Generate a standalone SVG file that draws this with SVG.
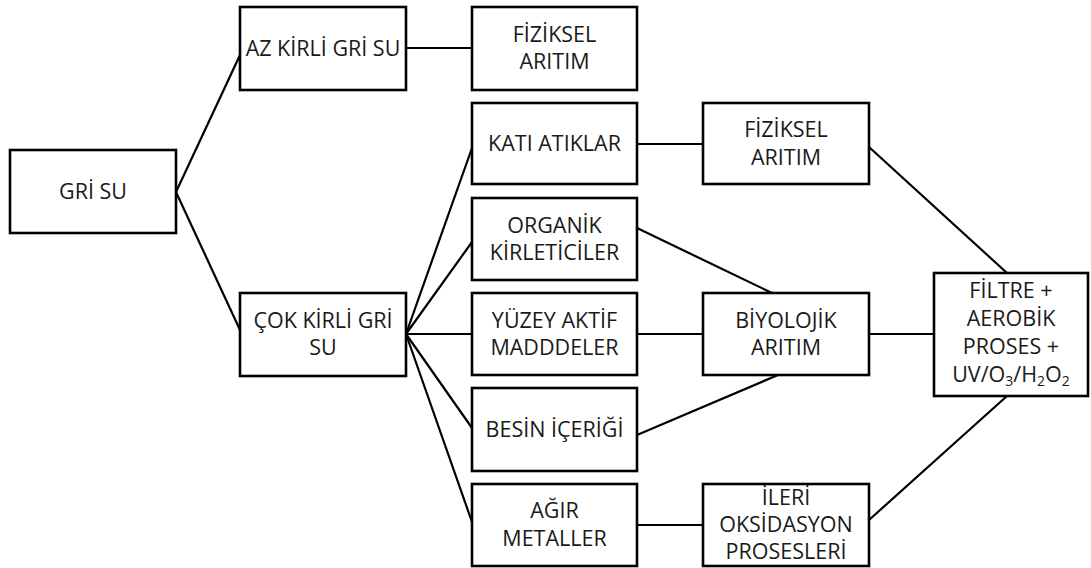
<svg xmlns="http://www.w3.org/2000/svg" width="1091" height="568" viewBox="0 0 1091 568">
<style>
.box{fill:#fff;stroke:#000;stroke-width:2.6}
.t{font-family:"Open Sans","Noto Sans","Liberation Sans",sans-serif;font-size:21.5px;fill:#1a1a1a;text-anchor:middle}
.sub{font-size:14px}
#connectors line{stroke:#000;stroke-width:2.2;fill:none}
</style>
<rect width="1091" height="568" fill="#fff"/>
<g id="connectors">
<line x1="176" y1="192" x2="240" y2="55"/>
<line x1="176" y1="192" x2="240" y2="330"/>
<line x1="406" y1="48" x2="472" y2="48"/>
<line x1="406" y1="334" x2="472" y2="148"/>
<line x1="406" y1="334" x2="472" y2="242"/>
<line x1="406" y1="334" x2="472" y2="334"/>
<line x1="406" y1="334" x2="472" y2="428"/>
<line x1="406" y1="334" x2="472" y2="522"/>
<line x1="637" y1="144" x2="703" y2="144"/>
<line x1="637" y1="228" x2="772" y2="293"/>
<line x1="637" y1="334" x2="703" y2="334"/>
<line x1="637" y1="435" x2="778" y2="375"/>
<line x1="637" y1="525" x2="703" y2="525"/>
<line x1="869" y1="147" x2="1007" y2="273"/>
<line x1="869" y1="334" x2="934" y2="334"/>
<line x1="869" y1="520" x2="1007" y2="396"/>
</g>
<g id="gri-su"><rect class="box" x="10" y="150" width="166" height="83"/><text class="t" x="93" y="199">GRİ SU</text></g>
<g id="az-kirli"><rect class="box" x="240" y="7" width="166" height="83"/><text class="t" x="323" y="56">AZ KİRLİ GRİ SU</text></g>
<g id="cok-kirli"><rect class="box" x="240" y="293" width="166" height="83"/><text class="t" x="323" y="328">ÇOK KİRLİ GRİ</text><text class="t" x="323" y="355">SU</text></g>
<g id="fiziksel-1"><rect class="box" x="472" y="7" width="165" height="83"/><text class="t" x="554.5" y="42">FİZİKSEL</text><text class="t" x="554.5" y="69">ARITIM</text></g>
<g id="kati"><rect class="box" x="472" y="103" width="165" height="81"/><text class="t" x="554.5" y="151">KATI ATIKLAR</text></g>
<g id="organik"><rect class="box" x="472" y="198" width="165" height="82"/><text class="t" x="554.5" y="233">ORGANİK</text><text class="t" x="554.5" y="260">KİRLETİCİLER</text></g>
<g id="yuzey"><rect class="box" x="472" y="293" width="165" height="82"/><text class="t" x="554.5" y="328">YÜZEY AKTİF</text><text class="t" x="554.5" y="355">MADDDELER</text></g>
<g id="besin"><rect class="box" x="472" y="388" width="165" height="83"/><text class="t" x="554.5" y="437">BESİN İÇERİĞİ</text></g>
<g id="agir"><rect class="box" x="472" y="484" width="165" height="82"/><text class="t" x="554.5" y="518">AĞIR</text><text class="t" x="554.5" y="546">METALLER</text></g>
<g id="fiziksel-2"><rect class="box" x="703" y="103" width="166" height="81"/><text class="t" x="786" y="137">FİZİKSEL</text><text class="t" x="786" y="165">ARITIM</text></g>
<g id="biyolojik"><rect class="box" x="703" y="293" width="166" height="82"/><text class="t" x="786" y="328">BİYOLOJİK</text><text class="t" x="786" y="355">ARITIM</text></g>
<g id="ileri"><rect class="box" x="703" y="484" width="166" height="82"/><text class="t" x="786" y="505">İLERİ</text><text class="t" x="786" y="532">OKSİDASYON</text><text class="t" x="786" y="559">PROSESLERİ</text></g>
<g id="filtre"><rect class="box" x="934" y="273" width="154" height="123"/><text class="t" x="1011" y="298">FİLTRE +</text><text class="t" x="1011" y="326">AEROBİK</text><text class="t" x="1011" y="354">PROSES +</text><text class="t" x="1011" y="382">UV/O<tspan class="sub" dy="4">3</tspan><tspan dy="-4">/H</tspan><tspan class="sub" dy="4">2</tspan><tspan dy="-4">O</tspan><tspan class="sub" dy="4">2</tspan></text></g>
</svg>
